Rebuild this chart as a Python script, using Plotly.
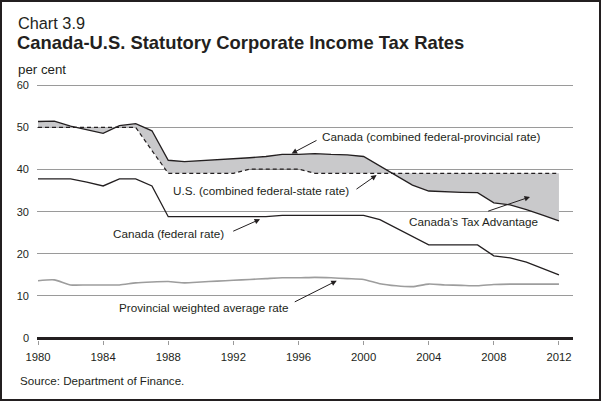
import plotly.graph_objects as go

years = list(range(1980, 2013))

canada_combined = [51.4, 51.5, 50.3, 49.5, 48.6, 50.4, 50.9, 49.2, 42.2, 41.9,
                   42.1, 42.3, 42.5, 42.8, 43.1, 43.6, 43.6, 43.8, 43.6, 43.5,
                   43.1, 40.9, 38.5, 36.3, 34.9, 34.7, 34.6, 34.5, 32.1, 31.6,
                   30.5, 29.2, 27.8]

us_combined = [50.0, 50.0, 50.0, 50.0, 50.0, 50.0, 50.0, 44.5, 39.1, 39.1,
               39.1, 39.1, 39.1, 40.1, 40.1, 40.1, 40.1, 39.1, 39.1, 39.1,
               39.1, 39.1, 39.1, 39.1, 39.1, 39.1, 39.1, 39.1, 39.1, 39.1,
               39.1, 39.1, 39.1]

canada_federal = [37.8, 37.8, 37.8, 37.0, 36.1, 37.8, 37.8, 36.1, 28.8, 28.8,
                  28.8, 28.8, 28.8, 28.8, 28.8, 29.1, 29.1, 29.1, 29.1, 29.1,
                  29.1, 28.1, 26.1, 24.1, 22.1, 22.1, 22.1, 22.1, 19.5, 19.0,
                  18.0, 16.5, 15.0]

provincial_avg = [13.6, 13.8, 12.6, 12.6, 12.6, 12.6, 13.1, 13.3, 13.4, 13.1,
                  13.3, 13.5, 13.7, 13.9, 14.1, 14.3, 14.3, 14.4, 14.3, 14.1,
                  13.9, 12.9, 12.4, 12.2, 12.8, 12.6, 12.5, 12.4, 12.7, 12.8,
                  12.8, 12.8, 12.8]

x_ticks = [1980, 1984, 1988, 1992, 1996, 2000, 2004, 2008, 2012]
y_ticks = [0, 10, 20, 30, 40, 50, 60]

FONT = "Liberation Sans, Arial, Helvetica, sans-serif"
TXT = "#231f20"

W, H = 601, 401
ML, MR, MT, MB = 37, 28, 84, 61
PW, PH = W - ML - MR, H - MT - MB

def px_x(px):
    return (px - ML) / PW

def px_y(py):
    return (H - MB - py) / PH

fig = go.Figure()

# fill between Canada combined and U.S.
fig.add_trace(go.Scatter(x=years, y=canada_combined, mode="lines",
                         line=dict(width=0, color="rgba(0,0,0,0)"),
                         hoverinfo="skip", showlegend=False))
fig.add_trace(go.Scatter(x=years, y=us_combined, mode="lines",
                         line=dict(width=0, color="rgba(0,0,0,0)"),
                         fill="tonexty", fillcolor="#c9c9cb",
                         hoverinfo="skip", showlegend=False))

fig.add_trace(go.Scatter(x=years, y=provincial_avg, mode="lines",
                         line=dict(color="#9d9d9d", width=1.6, shape="spline", smoothing=0.6),
                         showlegend=False))
fig.add_trace(go.Scatter(x=years, y=canada_federal, mode="lines",
                         line=dict(color="#231f20", width=1.3),
                         showlegend=False))
fig.add_trace(go.Scatter(x=years, y=us_combined, mode="lines",
                         line=dict(color="#231f20", width=1.2, dash="4px,3px"),
                         showlegend=False))
fig.add_trace(go.Scatter(x=years, y=canada_combined, mode="lines",
                         line=dict(color="#231f20", width=1.3),
                         showlegend=False))

ann = []
# header texts
ann.append(dict(text="Chart 3.9", x=px_x(16), y=px_y(23), xref="paper", yref="paper",
                xanchor="left", yanchor="middle", showarrow=False,
                font=dict(family=FONT, size=16.3, color=TXT)))
ann.append(dict(text="<b>Canada-U.S. Statutory Corporate Income Tax Rates</b>",
                x=px_x(15), y=px_y(42.5), xref="paper", yref="paper",
                xanchor="left", yanchor="middle", showarrow=False,
                font=dict(family=FONT, size=18.4, color=TXT)))
ann.append(dict(text="per cent", x=px_x(16), y=px_y(69), xref="paper", yref="paper",
                xanchor="left", yanchor="middle", showarrow=False,
                font=dict(family=FONT, size=13.3, color=TXT)))
ann.append(dict(text="Source: Department of Finance.", x=px_x(18), y=px_y(380),
                xref="paper", yref="paper", xanchor="left", yanchor="middle",
                showarrow=False, font=dict(family=FONT, size=11.6, color=TXT)))

lab_font = dict(family=FONT, size=11.7, color=TXT)
ann.append(dict(text="Canada (combined federal-provincial rate)", x=1997.35, y=47.8,
                xanchor="left", yanchor="middle", showarrow=False, font=lab_font))
ann.append(dict(text="U.S. (combined federal-state rate)", x=1999.25, y=35.1,
                xanchor="right", yanchor="middle", showarrow=False, font=lab_font))
ann.append(dict(text="Canada (federal rate)", x=1991.55, y=24.8,
                xanchor="right", yanchor="middle", showarrow=False, font=lab_font))
ann.append(dict(text="Provincial weighted average rate", x=1995.55, y=7.3,
                xanchor="right", yanchor="middle", showarrow=False, font=lab_font))
ann.append(dict(text="Canada’s Tax Advantage", x=2002.65, y=27.6,
                xanchor="left", yanchor="middle", showarrow=False, font=lab_font))

arrows = [
    ((1997.2, 47.1), (1995.58, 43.8)),
    ((1999.47, 35.1), (2000.8, 38.7)),
    ((1991.9, 25.2), (1993.64, 28.2)),
    ((1995.68, 8.4), (1998.35, 13.6)),
    ((2007.56, 30.0), (2010.22, 33.5)),
]
for (tx, ty), (hx, hy) in arrows:
    ann.append(dict(text="", x=hx, y=hy, ax=tx, ay=ty, axref="x", ayref="y",
                    xref="x", yref="y", showarrow=True, arrowhead=2,
                    arrowsize=1.1, arrowwidth=1, arrowcolor=TXT))

fig.update_layout(
    width=W, height=H,
    margin=dict(l=ML, r=MR, t=MT, b=MB),
    paper_bgcolor="white", plot_bgcolor="white",
    annotations=ann,
    shapes=[dict(type="rect", xref="paper", yref="paper",
                 x0=px_x(1), x1=px_x(600), y0=px_y(400), y1=px_y(1),
                 line=dict(color="#231f20", width=2), fillcolor="rgba(0,0,0,0)",
                 layer="above")],
    font=dict(family=FONT, size=11, color=TXT),
)

fig.update_xaxes(range=[1980 - 1 / 16.28, 1980 - 1 / 16.28 + PW / 16.28],
                 tickvals=x_ticks, ticks="outside", ticklen=4, tickcolor="#9a9a9a",
                 tickwidth=1, showgrid=False, zeroline=False, showline=False,
                 ticklabelstandoff=2,
                 tickfont=dict(family=FONT, size=11.3, color=TXT))
fig.update_yaxes(range=[-0.475, 60.309], tickvals=y_ticks, showgrid=True,
                 gridcolor="#9a9a9a", gridwidth=1, zeroline=True, zerolinecolor="#231f20",
                 zerolinewidth=3, showline=False, ticks="", ticklabelstandoff=7,
                 tickfont=dict(family=FONT, size=11, color=TXT))

fig.write_html("out.html")
